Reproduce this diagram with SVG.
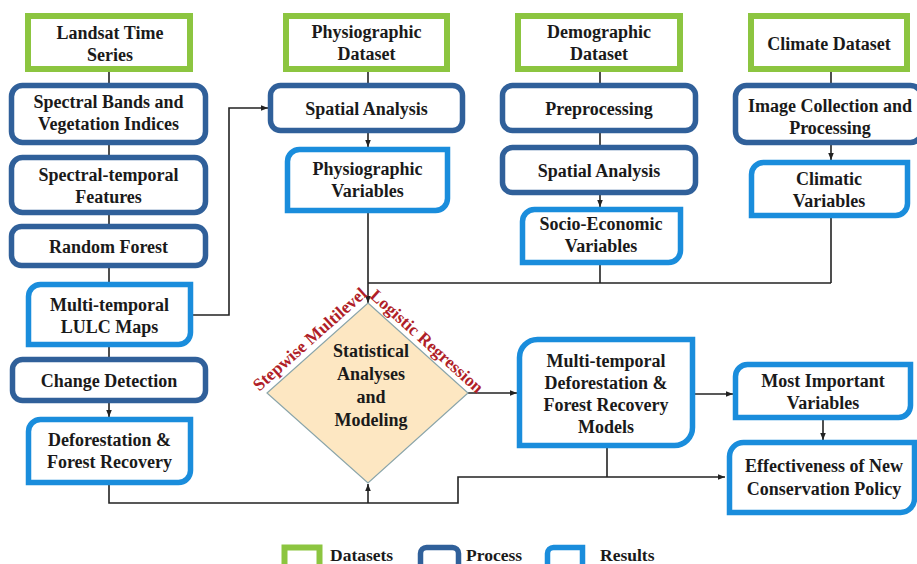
<svg xmlns="http://www.w3.org/2000/svg" width="917" height="564" viewBox="0 0 917 564">
<defs>
<style>
.t{font-family:"Liberation Serif","Times New Roman",serif;font-weight:bold;font-size:18px;fill:#1a1a1a;text-anchor:middle}
.r{font-family:"Liberation Serif","Times New Roman",serif;font-weight:bold;font-size:17.5px;fill:#b01e28;text-anchor:middle}
.lg{font-family:"Liberation Serif","Times New Roman",serif;font-weight:bold;font-size:17.5px;fill:#1a1a1a}
.ds{fill:#fff;stroke:#8cc540;stroke-width:6}
.pr{fill:#fff;stroke:#30609a;stroke-width:5.5}
.rs{fill:#fff;stroke:#1a8ddc;stroke-width:5.5}
.c{fill:none;stroke:#222;stroke-width:1.6}
</style>
<marker id="ah" viewBox="0 0 10 10" refX="10" refY="5" markerWidth="7" markerHeight="7" orient="auto" markerUnits="userSpaceOnUse"><path d="M0,1 L10,5 L0,9 z" fill="#222"/></marker>
</defs>
<rect width="917" height="564" fill="#fff"/>

<g id="connectors">
<path class="c" d="M109,72 V83"/>
<path class="c" d="M109,145 V155"/>
<path class="c" d="M109,215 V224"/>
<path class="c" d="M109,268 V282"/>
<path class="c" d="M109,347 V357"/>
<path class="c" d="M109,403 V417" marker-end="url(#ah)"/>
<path class="c" d="M109,485 V503 H458 V477 H725" marker-end="url(#ah)"/>
<path class="c" d="M368,503 V484" marker-end="url(#ah)"/>
<path class="c" d="M193,315 H229 V108 H268" marker-end="url(#ah)"/>
<path class="c" d="M368,72 V83"/>
<path class="c" d="M368,133 V147" marker-end="url(#ah)"/>
<path class="c" d="M368,213 V303" marker-end="url(#ah)"/>
<path class="c" d="M368,283 H831"/>
<path class="c" d="M600,72 V83"/>
<path class="c" d="M600,133 V145"/>
<path class="c" d="M600,195 V207" marker-end="url(#ah)"/>
<path class="c" d="M600,265 V283"/>
<path class="c" d="M831,72 V83"/>
<path class="c" d="M831,145 V160" marker-end="url(#ah)"/>
<path class="c" d="M831,218 V283"/>
<path class="c" d="M468,393 H517" marker-end="url(#ah)"/>
<path class="c" d="M695,394 H733" marker-end="url(#ah)"/>
<path class="c" d="M823,420 V440" marker-end="url(#ah)"/>
<path class="c" d="M607,448 V477"/>
</g>

<g id="landsat"><rect class="ds" x="28" y="16" width="162" height="53"/><text class="t" x="110" y="39">Landsat Time</text><text class="t" x="110" y="61">Series</text></g>
<g id="spectral-bands"><rect class="pr" x="11.5" y="85.5" width="194" height="57" rx="11"/><text class="t" x="108.5" y="108">Spectral Bands and</text><text class="t" x="108.5" y="130">Vegetation Indices</text></g>
<g id="spectral-temporal"><rect class="pr" x="11.5" y="157.5" width="194" height="55" rx="11"/><text class="t" x="108.5" y="181">Spectral-temporal</text><text class="t" x="108.5" y="203">Features</text></g>
<g id="random-forest"><rect class="pr" x="11.5" y="226.5" width="194" height="39" rx="10"/><text class="t" x="108.5" y="253">Random Forest</text></g>
<g id="lulc-maps"><path class="rs" d="M40.5,284.5 H190.5 V332.5 A12,12 0 0 1 178.5,344.5 H28.5 V296.5 A12,12 0 0 1 40.5,284.5 Z"/><text class="t" x="109.5" y="311">Multi-temporal</text><text class="t" x="109.5" y="333">LULC Maps</text></g>
<g id="change-detection"><rect class="pr" x="12.5" y="359.5" width="193" height="41" rx="10"/><text class="t" x="109" y="387">Change Detection</text></g>
<g id="deforestation"><path class="rs" d="M40.5,419.5 H190.5 V470.5 A12,12 0 0 1 178.5,482.5 H28.5 V431.5 A12,12 0 0 1 40.5,419.5 Z"/><text class="t" x="109.5" y="446">Deforestation &amp;</text><text class="t" x="109.5" y="468">Forest Recovery</text></g>

<g id="physiographic-dataset"><rect class="ds" x="286" y="16" width="161" height="53"/><text class="t" x="366.5" y="38">Physiographic</text><text class="t" x="366.5" y="60">Dataset</text></g>
<g id="spatial-analysis-1"><rect class="pr" x="270.5" y="85.5" width="192" height="45" rx="10"/><text class="t" x="366.5" y="115">Spatial Analysis</text></g>
<g id="physiographic-variables"><path class="rs" d="M299.5,149.5 H447.5 V198.5 A12,12 0 0 1 435.5,210.5 H287.5 V161.5 A12,12 0 0 1 299.5,149.5 Z"/><text class="t" x="367.5" y="175">Physiographic</text><text class="t" x="367.5" y="197">Variables</text></g>

<g id="demographic-dataset"><rect class="ds" x="518" y="16" width="162" height="53"/><text class="t" x="599" y="38">Demographic</text><text class="t" x="599" y="60">Dataset</text></g>
<g id="preprocessing"><rect class="pr" x="502.5" y="85.5" width="193" height="45" rx="10"/><text class="t" x="599" y="115">Preprocessing</text></g>
<g id="spatial-analysis-2"><rect class="pr" x="502.5" y="147.5" width="193" height="45" rx="10"/><text class="t" x="599" y="177">Spatial Analysis</text></g>
<g id="socio-economic"><path class="rs" d="M534.5,209.5 H680.5 V250.5 A12,12 0 0 1 668.5,262.5 H522.5 V221.5 A12,12 0 0 1 534.5,209.5 Z"/><text class="t" x="601" y="230">Socio-Economic</text><text class="t" x="601" y="252">Variables</text></g>

<g id="climate-dataset"><rect class="ds" x="751" y="16" width="156" height="53"/><text class="t" x="829" y="50">Climate Dataset</text></g>
<g id="image-collection"><rect class="pr" x="735.5" y="85.5" width="186" height="57" rx="11"/><text class="t" x="830" y="112">Image Collection and</text><text class="t" x="830" y="134">Processing</text></g>
<g id="climatic-variables"><path class="rs" d="M763.5,162.5 H907.5 V203.5 A12,12 0 0 1 895.5,215.5 H751.5 V174.5 A12,12 0 0 1 763.5,162.5 Z"/><text class="t" x="829" y="185">Climatic</text><text class="t" x="829" y="207">Variables</text></g>

<g id="statistical-analyses"><path d="M368,303 L468,393 L368,483 L267,393 Z" fill="#fde7c2" stroke="#8aa5aa" stroke-width="1.2"/>
<text class="t" x="371" y="357">Statistical</text><text class="t" x="371" y="380">Analyses</text><text class="t" x="371" y="403">and</text><text class="t" x="371" y="426">Modeling</text>
<text class="r" transform="translate(313.5,343.5) rotate(-41.7)">Stepwise Multilevel</text>
<text class="r" transform="translate(423,345.5) rotate(42)">Logistic Regression</text></g>

<g id="models"><path class="rs" d="M537.5,339.5 H692.5 V427.5 A18,18 0 0 1 674.5,445.5 H519.5 V357.5 A18,18 0 0 1 537.5,339.5 Z"/><text class="t" x="606" y="367">Multi-temporal</text><text class="t" x="606" y="389">Deforestation &amp;</text><text class="t" x="606" y="411">Forest Recovery</text><text class="t" x="606" y="433">Models</text></g>
<g id="most-important"><path class="rs" d="M747.5,364.5 H910.5 V405.5 A12,12 0 0 1 898.5,417.5 H735.5 V376.5 A12,12 0 0 1 747.5,364.5 Z"/><text class="t" x="823" y="387">Most Important</text><text class="t" x="823" y="409">Variables</text></g>
<g id="effectiveness"><path class="rs" d="M743.5,442.5 H914.5 V498.5 A14,14 0 0 1 900.5,512.5 H729.5 V456.5 A14,14 0 0 1 743.5,442.5 Z"/><text class="t" x="824" y="472">Effectiveness of New</text><text class="t" x="824" y="495">Conservation Policy</text></g>

<g id="legend">
<rect class="ds" x="284.5" y="547.5" width="35" height="22" stroke-width="5"/><text class="lg" x="330" y="561">Datasets</text>
<rect class="pr" x="420.5" y="547.5" width="38" height="22" rx="6"/><text class="lg" x="466" y="561">Process</text>
<path class="rs" d="M553.5,547.5 H582.5 V563.5 A6,6 0 0 1 576.5,569.5 H547.5 V553.5 A6,6 0 0 1 553.5,547.5 Z"/><text class="lg" x="600" y="561">Results</text>
</g>
</svg>
